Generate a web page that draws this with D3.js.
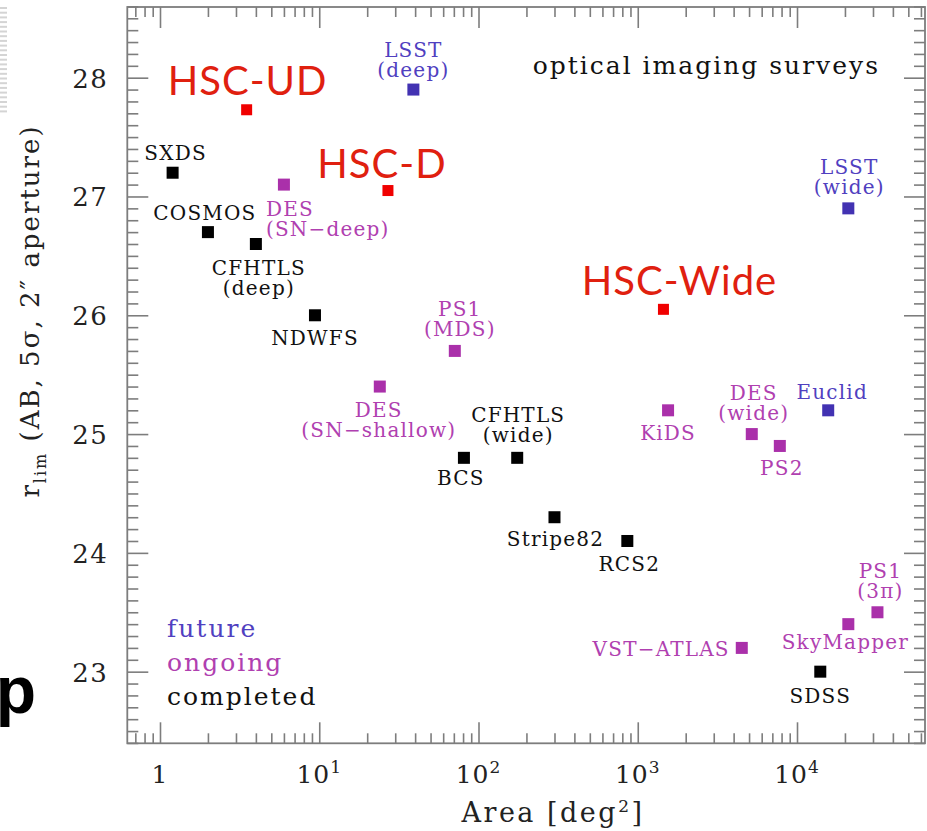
<!DOCTYPE html>
<html><head><meta charset="utf-8">
<script src="https://cdn.jsdelivr.net/npm/d3@7"></script>
<style>
html,body{margin:0;padding:0;background:#fff;}
svg{display:block;}
</style></head>
<body>
<svg id="chart" width="927" height="831"></svg>
<script>
// ---------------- data ----------------
const surveys = ["HSC-UD","HSC-D","HSC-Wide","LSST (deep)","LSST (wide)","Euclid",
  "DES (SN\u2212deep)","DES (SN\u2212shallow)","DES (wide)","PS1 (MDS)","PS1 (3\u03c0)","PS2","KiDS","VST\u2212ATLAS","SkyMapper",
  "SXDS","COSMOS","CFHTLS (deep)","CFHTLS (wide)","NDWFS","BCS","Stripe82","RCS2","SDSS"];
const areas  = [3.5, 27, 1450, 39, 21000, 15700,
  6, 24, 5200, 71, 32000, 7800, 1550, 4500, 21000,
  1.2, 2, 4, 175, 9.4, 81, 300, 860, 14000];
const depths = [27.73, 27.05, 26.05, 27.9, 26.9, 25.2,
  27.1, 25.4, 25.0, 25.7, 23.5, 24.9, 25.2, 23.2, 23.4,
  27.2, 26.7, 26.6, 24.8, 26.0, 24.8, 24.3, 24.1, 23.0];
const status = ["hsc","hsc","hsc","future","future","future",
  "ongoing","ongoing","ongoing","ongoing","ongoing","ongoing","ongoing","ongoing","ongoing",
  "completed","completed","completed","completed","completed","completed","completed","completed","completed"];
const legendItems = ["future","ongoing","completed"];
const yTicks = [23,24,25,26,27,28];
const xTickExps = [0,1,2,3,4];
const chartNote = "optical imaging surveys";
const xTitle = "Area [deg";
const yTitle = " (AB, 5\u03c3, 2\u2033 aperture)";

// ---------------- layout / style ----------------
// label placement relative to marker: [dx, dy(first baseline), anchor]
const labelLayout = [
  [1,-15,"middle"],[-6,-13,"middle"],[16,-14,"middle"],[0,-33,"middle"],[1,-34,"middle"],[4,-11,"middle"],
  [-18,31,"start"],[-1,30,"middle"],[2,-34,"middle"],[5,-35,"middle"],[3,-34,"middle"],[2,29,"middle"],[0,30,"middle"],[-12,8,"end"],[-3,25,"middle"],
  [3,-13,"middle"],[-3,-12,"middle"],[3,31,"middle"],[1,-36,"middle"],[0,30,"middle"],[-3,27,"middle"],[1,29,"middle"],[2,30,"middle"],[0,31,"middle"]
];
const markColor = {hsc:"#f00000", future:"#4232b2", ongoing:"#aa30aa", completed:"#000"};
const textColor = {hsc:"#e0200f", future:"#5040c0", ongoing:"#b040b0", completed:"#111"};
const serif = "'DejaVu Serif', serif";

const W = 927, H = 831;
const m = {left:127.3, top:7, right:2, bottom:87.7};
const svg = d3.select("#chart");

const x = d3.scaleLog().domain([Math.pow(10,-0.2053), Math.pow(10,4.8037)]).range([m.left, W-m.right]);
const y = d3.scaleLinear().domain([22.397, 28.595]).range([H-m.bottom, m.top]);

// slide artefacts at left edge
const art = svg.append("g");
art.selectAll("rect").data(d3.range(7, 114, 4.7)).join("rect")
  .attr("x",0).attr("y",d=>d).attr("width",7).attr("height",2).attr("fill","#d4d4d4");
art.append("text").attr("x",36).attr("y",713).attr("text-anchor","end")
  .attr("font-family","'Liberation Sans', Arial, sans-serif").attr("font-weight","bold")
  .attr("font-size",66).attr("fill","#000").text("p");

// axes with ticks on all sides
const frameCol = "#7d7d7d";
const xMajor = xTickExps.map(e=>Math.pow(10,e));
const xMinor = [];
for (let e=-1;e<=4;e++) for (let k=2;k<=9;k++){const v=k*Math.pow(10,e); if(v>=x.domain()[0]&&v<=x.domain()[1]) xMinor.push(v);}
const yMinor = d3.range(224,287).map(v=>v/10).filter(v=>Math.abs(v-Math.round(v))>1e-6);

function styleAxis(g){
  g.select(".domain").remove();
  g.selectAll(".tick line").attr("stroke",frameCol).attr("stroke-width",1.6);
}
const bottomMinor = svg.append("g").attr("transform",`translate(0,${H-m.bottom})`)
  .call(d3.axisBottom(x).tickValues(xMinor).tickSize(-10).tickFormat(""));
styleAxis(bottomMinor);
const bottomMajor = svg.append("g").attr("transform",`translate(0,${H-m.bottom})`)
  .call(d3.axisBottom(x).tickValues(xMajor).tickSize(-21).tickPadding(0).tickFormat(""));
styleAxis(bottomMajor);
const topMinor = svg.append("g").attr("transform",`translate(0,${m.top})`)
  .call(d3.axisTop(x).tickValues(xMinor).tickSize(-10).tickFormat(""));
styleAxis(topMinor);
const topMajor = svg.append("g").attr("transform",`translate(0,${m.top})`)
  .call(d3.axisTop(x).tickValues(xMajor).tickSize(-21).tickFormat(""));
styleAxis(topMajor);
const leftMinor = svg.append("g").attr("transform",`translate(${m.left},0)`)
  .call(d3.axisLeft(y).tickValues(yMinor).tickSize(-11).tickFormat(""));
styleAxis(leftMinor);
const leftMajor = svg.append("g").attr("transform",`translate(${m.left},0)`)
  .call(d3.axisLeft(y).tickValues(yTicks).tickSize(-21).tickPadding(19).tickFormat(d3.format("d")));
styleAxis(leftMajor);
leftMajor.selectAll(".tick text").attr("font-family",serif).attr("font-size",26).attr("fill","#222")
  .attr("letter-spacing",1.5).attr("dy","0.36em");
const rightMinor = svg.append("g").attr("transform",`translate(${W-m.right},0)`)
  .call(d3.axisRight(y).tickValues(yMinor).tickSize(-11).tickFormat(""));
styleAxis(rightMinor);
const rightMajor = svg.append("g").attr("transform",`translate(${W-m.right},0)`)
  .call(d3.axisRight(y).tickValues(yTicks).tickSize(-21).tickFormat(""));
styleAxis(rightMajor);

// frame
svg.append("rect").attr("x",m.left).attr("y",m.top)
  .attr("width",W-m.right-m.left).attr("height",H-m.bottom-m.top)
  .attr("fill","none").attr("stroke",frameCol).attr("stroke-width",1.8);

// x tick labels (1, 10^1, ...)
const xl = svg.append("g").attr("font-family",serif).attr("font-size",25).attr("fill","#222");
xl.selectAll("text").data(xTickExps).join("text")
  .attr("x",d=>x(Math.pow(10,d))).attr("y",783).attr("text-anchor","middle").attr("letter-spacing",1)
  .each(function(d){
    const t=d3.select(this);
    if(d===0){t.text("1");return;}
    t.append("tspan").text("10");
    t.append("tspan").attr("dy",-10).attr("font-size",17).text(d);
  });

// axis titles
const xt = svg.append("text").attr("x",553).attr("y",822).attr("text-anchor","middle")
  .attr("font-family",serif).attr("font-size",27).attr("fill","#222").attr("letter-spacing",2.5);
xt.append("tspan").text(xTitle);
xt.append("tspan").attr("dy",-10).attr("font-size",17).text("2");
xt.append("tspan").attr("dy",10).text("]");

const yt = svg.append("text").attr("transform","translate(38.5,311) rotate(-90)").attr("text-anchor","middle")
  .attr("font-family",serif).attr("font-size",26).attr("fill","#222").attr("letter-spacing",2);
yt.append("tspan").text("r");
yt.append("tspan").attr("dy",7).attr("font-size",16).text("lim");
yt.append("tspan").attr("dy",-7).text(yTitle);

// note
svg.append("text").attr("x",880).attr("y",74).attr("text-anchor","end")
  .attr("font-family",serif).attr("font-size",25).attr("fill","#111").attr("letter-spacing",2).text(chartNote);

// legend
svg.append("g").selectAll("text").data(legendItems).join("text")
  .attr("x",167).attr("y",(d,i)=>637+i*34)
  .attr("font-family",serif).attr("font-size",25).attr("letter-spacing",2)
  .attr("fill",d=>textColor[d]).text(d=>d);

// markers
const pts = surveys.map((s,i)=>({name:s, a:areas[i], r:depths[i], st:status[i], lay:labelLayout[i]}));
svg.append("g").selectAll("rect").data(pts).join("rect")
  .attr("x",d=>x(d.a)-(d.st==="hsc"?5.5:6)).attr("y",d=>y(d.r)-(d.st==="hsc"?5.5:6))
  .attr("width",d=>d.st==="hsc"?11:12).attr("height",d=>d.st==="hsc"?11:12)
  .attr("fill",d=>markColor[d.st]);

// labels
const lg = svg.append("g");
pts.forEach(d=>{
  const lines = d.st==="hsc" ? [d.name] : d.name.split(" ");
  lines.forEach((ln,j)=>{
    const t = lg.append("text")
      .attr("x",x(d.a)+d.lay[0]).attr("y",y(d.r)+d.lay[1]+j*20)
      .attr("text-anchor",d.lay[2]).attr("fill",textColor[d.st]).text(ln);
    if(d.st==="hsc"){
      t.attr("font-family","Lato, 'Open Sans', sans-serif").attr("font-size",40).attr("letter-spacing",1);
    } else {
      t.attr("font-family",serif).attr("font-size",20).attr("letter-spacing",1.2);
    }
  });
});
</script>
</body></html>
